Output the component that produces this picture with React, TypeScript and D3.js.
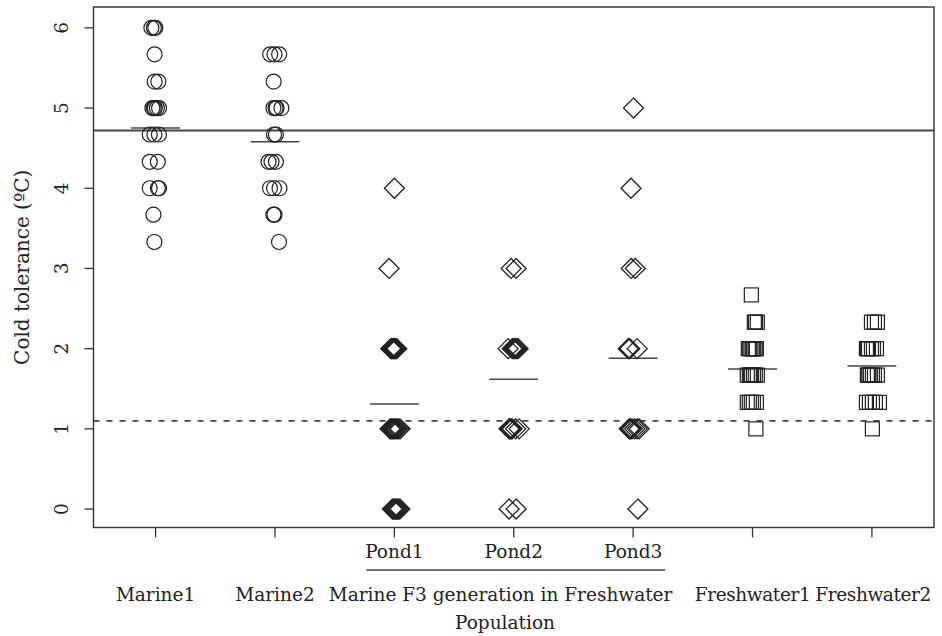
import React from 'react';
import * as d3 from 'd3';

// groups along the x axis (1..7)
const groups = ['Marine1', 'Marine2', 'Pond1', 'Pond2', 'Pond3', 'Freshwater1', 'Freshwater2'];
const shapes = ['circle', 'circle', 'diamond', 'diamond', 'diamond', 'square', 'square'];

// cold tolerance values per group, with the jitter (category units)
const marine1Values = [6, 6, 6, 5.67, 5.33, 5.33, 5, 5, 5, 5, 5, 4.67, 4.67, 4.67, 4.33, 4.33, 4, 4, 4, 3.67, 3.33];
const marine1Jitter = [-0.035, -0.014, -0.002, -0.008, -0.008, 0.023, -0.027, -0.015, -0.006, 0.011, 0.029, -0.049, -0.01, 0.028, -0.049, 0.019, -0.049, 0.019, 0.029, -0.018, -0.01];
const marine2Values = [5.67, 5.67, 5.67, 5.33, 5, 5, 5, 5, 4.67, 4.67, 4.33, 4.33, 4.33, 4, 4, 4, 3.67, 3.67, 3.33];
const marine2Jitter = [-0.04, -0.004, 0.035, -0.011, -0.013, 0.005, 0.013, 0.054, -0.008, 0.008, -0.054, -0.029, 0.008, -0.042, -0.008, 0.038, -0.013, -0.004, 0.034];
const pond1Values = [4, 3, 2, 2, 2, 2, 2, 2, 2, 2, 2, 2, 1, 1, 1, 1, 1, 1, 1, 1, 1, 1, 0, 0, 0, 0, 0, 0, 0, 0];
const pond1Jitter = [0, -0.044, -0.03, -0.025, -0.019, -0.014, -0.009, -0.003, 0.003, 0.009, 0.015, 0.02, -0.036, -0.028, -0.02, -0.012, -0.004, 0.004, 0.014, 0.024, 0.036, 0.048, -0.017, -0.009, -0.001, 0.008, 0.017, 0.026, 0.036, 0.046];
const pond2Values = [3, 3, 2, 2, 2, 2, 2, 2, 2, 2, 1, 1, 1, 1, 1, 1, 1, 0, 0];
const pond2Jitter = [-0.022, 0.02, -0.047, -0.013, -0.005, 0.003, 0.011, 0.019, 0.028, 0.037, -0.039, -0.033, -0.026, -0.02, -0.013, 0.016, 0.045, -0.039, 0.02];
const pond3Values = [5, 4, 3, 3, 2, 2, 2, 2, 1, 1, 1, 1, 1, 1, 1, 0];
const pond3Jitter = [0.003, -0.018, -0.016, 0.018, -0.041, -0.034, -0.028, 0.034, -0.033, -0.026, -0.02, -0.008, 0.013, 0.034, 0.051, 0.04];
const fresh1Values = [2.67, 2.33, 2.33, 2.33, 2, 2, 2, 2, 2, 2, 2, 2, 1.67, 1.67, 1.67, 1.67, 1.67, 1.67, 1.67, 1.33, 1.33, 1.33, 1.33, 1.33, 1];
const fresh1Jitter = [-0.01, 0.015, 0.025, 0.04, -0.035, -0.027, -0.014, -0.002, 0.005, 0.011, 0.023, 0.032, -0.044, -0.027, -0.018, -0.01, 0.007, 0.023, 0.04, -0.044, -0.027, -0.01, 0.007, 0.032, 0.028];
const fresh2Values = [2.33, 2.33, 2.33, 2, 2, 2, 2, 2, 2, 1.67, 1.67, 1.67, 1.67, 1.67, 1.67, 1.67, 1.33, 1.33, 1.33, 1.33, 1.33, 1];
const fresh2Jitter = [-0.004, 0.021, 0.046, -0.046, -0.038, -0.029, -0.004, 0.013, 0.038, -0.038, -0.032, -0.025, -0.013, 0.004, 0.021, 0.046, -0.046, -0.021, 0.004, 0.029, 0.063, 0.004];

const allValues = [marine1Values, marine2Values, pond1Values, pond2Values, pond3Values, fresh1Values, fresh2Values];
const allJitter = [marine1Jitter, marine2Jitter, pond1Jitter, pond2Jitter, pond3Jitter, fresh1Jitter, fresh2Jitter];

// group means (short horizontal bars) and reference lines
const groupMeans = [4.75, 4.58, 1.31, 1.62, 1.88, 1.746, 1.784];
const marineLine = 4.72;
const freshLine = 1.1;

const yTicks = [0, 1, 2, 3, 4, 5, 6];
const pondLabels = ['Pond1', 'Pond2', 'Pond3'];
const bottomLabels = ['Marine1', 'Marine2', 'Marine F3 generation in Freshwater', 'Freshwater1', 'Freshwater2'];
const bottomLabelPos = [1, 2, 3.89, 6, 7.01];

const W = 942, H = 636;
const left = 93.5, right = 934, top = 7, bottom = 527.5;
const FONT = '"DejaVu Serif", serif';
const INK = '#222';
const AXIS = '#333';

export default function App() {
  const x = d3.scaleLinear().domain([0.48, 7.52]).range([left, right]);
  const y = d3.scaleLinear().domain([-0.23, 6.26]).range([bottom, top]);

  const marks: JSX.Element[] = [];
  allValues.forEach((vals, gi) => {
    vals.forEach((v, i) => {
      const cx = x(gi + 1 + allJitter[gi][i]);
      const cy = y(v);
      const key = `${gi}-${i}`;
      if (shapes[gi] === 'circle') {
        marks.push(<circle key={key} cx={cx} cy={cy} r={7.5} fill="none" stroke={INK} strokeWidth={1.2} />);
      } else if (shapes[gi] === 'diamond') {
        const s = 10;
        marks.push(<path key={key} d={`M${cx},${cy - s}L${cx + s},${cy}L${cx},${cy + s}L${cx - s},${cy}Z`} fill="none" stroke={INK} strokeWidth={1.3} />);
      } else {
        const s = 7;
        marks.push(<rect key={key} x={cx - s} y={cy - s} width={2 * s} height={2 * s} fill="none" stroke={INK} strokeWidth={1.2} />);
      }
    });
  });

  return (
    <svg width={W} height={H} style={{ position: 'absolute', left: 0, top: 0, background: '#fff' }} fontFamily={FONT}>
      <rect x={0} y={0} width={W} height={H} fill="#fff" />
      {/* reference lines */}
      <line x1={left} x2={right} y1={y(marineLine)} y2={y(marineLine)} stroke="#444" strokeWidth={1.8} />
      <line x1={left} x2={right} y1={y(freshLine)} y2={y(freshLine)} stroke="#444" strokeWidth={1.8} strokeDasharray="6,7" />
      {/* group means */}
      {groupMeans.map((m, i) => (
        <line key={'m' + i} x1={x(i + 1 - 0.205)} x2={x(i + 1 + 0.205)} y1={y(m)} y2={y(m)} stroke="#444" strokeWidth={1.5} />
      ))}
      {marks}
      {/* frame */}
      <rect x={left} y={top} width={right - left} height={bottom - top} fill="none" stroke={AXIS} strokeWidth={1.4} />
      {/* y axis */}
      {yTicks.map(t => (
        <g key={'y' + t}>
          <line x1={left - 9} x2={left} y1={y(t)} y2={y(t)} stroke={AXIS} strokeWidth={1.3} />
          <text transform={`translate(68,${y(t)}) rotate(-90)`} textAnchor="middle" fontSize={18.5} fill={INK}>{t}</text>
        </g>
      ))}
      <text transform={`translate(29,${(top + bottom) / 2}) rotate(-90)`} textAnchor="middle" fontSize={20} fill={INK}>Cold tolerance (ºC)</text>
      {/* x axis */}
      {groups.map((g, i) => (
        <line key={'xt' + g} x1={x(i + 1)} x2={x(i + 1)} y1={bottom} y2={bottom + 10} stroke={AXIS} strokeWidth={1.3} />
      ))}
      {pondLabels.map((p, i) => (
        <text key={p} x={x(i + 3)} y={558} textAnchor="middle" fontSize={18.5} fill={INK}>{p}</text>
      ))}
      <line x1={x(3) - 28} x2={x(5) + 32} y1={570} y2={570} stroke="#444" strokeWidth={1.5} />
      {bottomLabels.map((b, i) => (
        <text key={b} x={x(bottomLabelPos[i])} y={601} textAnchor="middle" fontSize={18.5}
          letterSpacing={i >= 3 ? -0.4 : 0} fill={INK}>{b}</text>
      ))}
      <text x={505} y={629} textAnchor="middle" fontSize={18.5} fill={INK}>Population</text>
    </svg>
  );
}
